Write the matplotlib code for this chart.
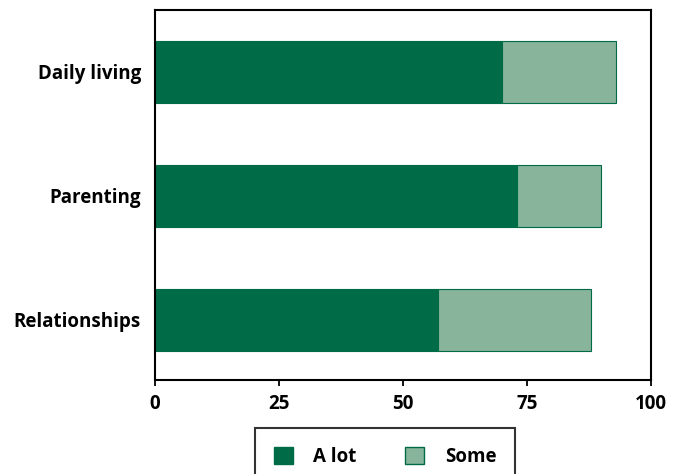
import matplotlib
matplotlib.use("Agg")
import matplotlib.pyplot as plt
from matplotlib.patches import Patch

categories = ["Daily living", "Parenting", "Relationships"]
a_lot = [70, 73, 57]
some = [23, 17, 31]
xticks = [0, 25, 50, 75, 100]

dark = "#006b47"
light = "#88b49c"

plt.rcParams["font.family"] = ["Open Sans", "DejaVu Sans"]
plt.rcParams["font.weight"] = "bold"

fig = plt.figure(figsize=(6.82, 4.74), dpi=100)
ax = fig.add_axes([155 / 682, 1 - 380 / 474, 496 / 682, 370 / 474])

ypos = list(range(len(categories)))
ax.barh(ypos, a_lot, height=0.5, color=dark, edgecolor=dark, linewidth=0.8)
ax.barh(ypos, some, left=a_lot, height=0.5, color=light, edgecolor=dark, linewidth=0.8)

ax.set_ylim(2.484, -0.5)
ax.set_xlim(0, 100)
ax.set_xticks(xticks)
ax.set_xticklabels([str(t) for t in xticks], fontsize=13.5, fontweight="bold")
ax.set_yticks(ypos)
ax.set_yticklabels(categories, fontsize=13.5, fontweight="bold")
ax.tick_params(axis="y", length=0, pad=10)
ax.tick_params(axis="x", length=4, width=1.3, pad=6)
for s in ax.spines.values():
    s.set_linewidth(1.5)

handles = [Patch(facecolor=dark, edgecolor=dark, label="A lot"),
           Patch(facecolor=light, edgecolor=dark, label="Some")]
leg = fig.legend(handles=handles, loc="upper center", ncol=2,
                 bbox_to_anchor=(385 / 682, 1 - 428 / 474),
                 frameon=True, fancybox=False, fontsize=13.5,
                 handlelength=1.0, handleheight=1.0, handletextpad=1.1,
                 columnspacing=2.6, borderpad=1.0, borderaxespad=0)
leg.get_frame().set_edgecolor("black")
leg.get_frame().set_linewidth(1.5)
for t in leg.get_texts():
    t.set_fontweight("bold")

fig.savefig("out.png", dpi=100)
